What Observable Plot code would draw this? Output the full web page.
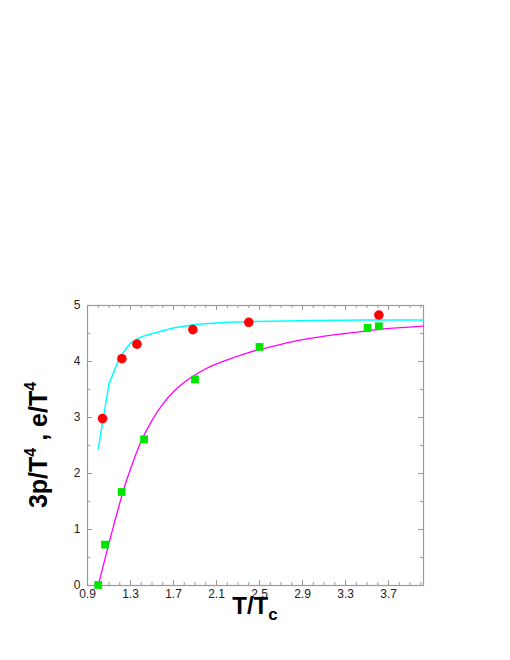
<!DOCTYPE html>
<html><head><meta charset="utf-8">
<script src="https://cdn.jsdelivr.net/npm/d3@7"></script>
<script src="https://cdn.jsdelivr.net/npm/@observablehq/plot@0.6"></script>
<style>body{margin:0;background:#fff}</style>
</head><body><div id="chart"></div>
<script>
// pressure data (red circles): 3p/T^4
const pressureT = [1.04, 1.22, 1.36, 1.88, 2.40, 3.61];
const pressureV = [2.98, 4.05, 4.31, 4.57, 4.70, 4.83];
// energy density data (green squares): e/T^4
const energyT = [1.0, 1.063, 1.218, 1.426, 1.90, 2.50, 3.505, 3.61];
const energyV = [0.01, 0.73, 1.67, 2.61, 3.68, 4.26, 4.60, 4.63];
// cyan curve
const cyanT = [1.0, 1.1, 1.2, 1.3, 1.4, 1.5, 1.7, 1.9, 2.2, 2.6, 3.0, 3.5, 4.025];
const cyanV = [2.44, 3.60, 4.08, 4.33, 4.44, 4.50, 4.60, 4.66, 4.70, 4.72, 4.73, 4.74, 4.74];
// magenta curve
const magT = [1.0, 1.05, 1.1, 1.15, 1.2, 1.25, 1.3, 1.4, 1.5, 1.6, 1.7, 1.8, 1.9, 2.0, 2.2, 2.4, 2.6, 2.8, 3.0, 3.3, 3.6, 4.025];
const magV = [0.0, 0.38, 0.76, 1.12, 1.47, 1.80, 2.08, 2.58, 2.95, 3.24, 3.46, 3.63, 3.76, 3.87, 4.03, 4.16, 4.26, 4.35, 4.42, 4.50, 4.57, 4.63];
// ticks
const xTickLabels = [0.9, 1.3, 1.7, 2.1, 2.5, 2.9, 3.3, 3.7];
const xMinorTicks = [0.9,1.0,1.1,1.2,1.3,1.4,1.5,1.6,1.7,1.8,1.9,2.0,2.1,2.2,2.3,2.4,2.5,2.6,2.7,2.8,2.9,3.0,3.1,3.2,3.3,3.4,3.5,3.6,3.7,3.8,3.9,4.0];
const yTickLabels = [0, 1, 2, 3, 4, 5];
const yMinorTicks = [0,0.5,1,1.5,2,2.5,3,3.5,4,4.5,5];

const W = 510, H = 660, mL = 87, mR = 87, mT = 305, mB = 75;
const pw = W - mL - mR, ph = H - mT - mB;
const gray = "#9a9a9a";

const pts = (xs, ys) => xs.map((x, i) => ({x, y: ys[i]}));

const chart = Plot.plot({
  width: W, height: H,
  marginLeft: mL, marginRight: mR, marginTop: mT, marginBottom: mB,
  style: {fontFamily: "Liberation Sans, Arial, sans-serif", fontSize: "12px", background: "#fff"},
  x: {domain: [0.9, 4.025], axis: null},
  y: {domain: [0, 5], axis: null},
  marks: [
    Plot.frame({stroke: gray, strokeWidth: 1.2}),
    // minor ticks (inward) bottom/top
    Plot.tickX(xMinorTicks, {x: d => d, insetTop: ph - 3, stroke: gray}),
    Plot.tickX(xMinorTicks, {x: d => d, insetBottom: ph - 3, stroke: gray}),
    Plot.tickX(xTickLabels, {x: d => d, insetTop: ph - 5, stroke: gray}),
    Plot.tickX(xTickLabels, {x: d => d, insetBottom: ph - 5, stroke: gray}),
    Plot.tickY(yMinorTicks, {y: d => d, insetRight: pw - 3, stroke: gray}),
    Plot.tickY(yMinorTicks, {y: d => d, insetLeft: pw - 3, stroke: gray}),
    Plot.tickY(yTickLabels, {y: d => d, insetRight: pw - 5, stroke: gray}),
    Plot.tickY(yTickLabels, {y: d => d, insetLeft: pw - 5, stroke: gray}),
    Plot.axisX({ticks: xTickLabels, tickSize: 0, tickPadding: 4, tickFormat: d3.format(".1f"), label: null, fill: "#222"}),
    Plot.axisY({ticks: yTickLabels, tickSize: 0, tickPadding: 7, tickFormat: d3.format("d"), label: null, fill: "#222"}),
    Plot.line(pts(cyanT, cyanV), {x: "x", y: "y", stroke: "#00ffff", strokeWidth: 1.5}),
    Plot.line(pts(magT, magV), {x: "x", y: "y", stroke: "#ff00ff", strokeWidth: 1.3, curve: "monotone-x"}),
    Plot.dot(pts(pressureT, pressureV), {x: "x", y: "y", r: 4.8, fill: "#ff0000", stroke: "none"}),
    Plot.dot(pts(energyT, energyV), {x: "x", y: "y", r: 4.4, symbol: "square", fill: "#00e600", stroke: "none"})
  ]
});
document.getElementById("chart").append(chart);

const svg = d3.select(chart);
// x-axis title
const xt = svg.append("text")
  .attr("x", mL + pw / 2).attr("y", 614)
  .attr("text-anchor", "middle")
  .style("font-family", "Liberation Sans, Arial, sans-serif")
  .style("font-weight", "bold").style("font-size", "24px").attr("fill", "#000");
xt.append("tspan").text("T/T");
xt.append("tspan").attr("dy", 6).style("font-size", "17px").text("c");

// y-axis title
const yt = svg.append("text")
  .attr("transform", `translate(47,${mT + ph / 2}) rotate(-90)`)
  .attr("text-anchor", "middle")
  .style("font-family", "Liberation Sans, Arial, sans-serif")
  .style("font-weight", "bold").style("font-size", "25px").attr("fill", "#000");
yt.append("tspan").text("3p/T");
yt.append("tspan").attr("dy", -11).style("font-size", "16px").text("4");
yt.append("tspan").attr("dy", 11).text(" , e/T");
yt.append("tspan").attr("dy", -11).style("font-size", "16px").text("4");
</script>
</body></html>
